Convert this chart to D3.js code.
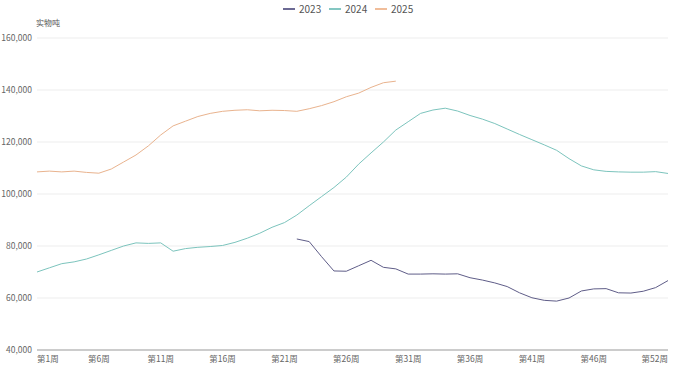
<!DOCTYPE html>
<html>
<head>
<meta charset="utf-8">
<script src="https://cdn.jsdelivr.net/npm/d3@7"></script>
<style>
  body { margin: 0; background: #fff; }
  svg { display: block; font-family: "Noto Sans CJK SC", "Noto Sans", sans-serif; }
</style>
</head>
<body>
<svg id="chart" width="683" height="370"></svg>
<script>
// weekly stock, tonnes (实物吨)
const weeks = d3.range(1, 53);
const tickWeeks = [1, 6, 11, 16, 21, 26, 31, 36, 41, 46, 52];
const yTicks = [40000, 60000, 80000, 100000, 120000, 140000, 160000];

// 2023 starts at week 22
const start2023 = 22;
const values2023 = [82700, 81700, 75900, 70400, 70300, 72400, 74500, 71800, 71200, 69200,
  69200, 69300, 69200, 69300, 67800, 66900, 65800, 64400, 62000, 60100,
  59100, 58800, 60000, 62700, 63500, 63600, 62000, 61900, 62600, 64000, 66700];

const values2024 = [70000, 71600, 73200, 73900, 75000, 76600, 78300, 80000, 81200, 81000,
  81200, 78000, 79000, 79500, 79800, 80200, 81400, 83000, 84900, 87200,
  89000, 91900, 95500, 99000, 102500, 106500, 111500, 115800, 120000, 124600,
  127800, 131000, 132300, 133000, 131900, 130200, 128800, 127100, 125000, 122900,
  120900, 118900, 116800, 113600, 110800, 109300, 108700, 108500, 108400, 108400,
  108600, 107900];

const values2025 = [108500, 108800, 108500, 108800, 108300, 108000, 109600, 112300, 115000, 118500,
  122700, 126200, 128000, 129800, 131000, 131800, 132200, 132400, 132000, 132200,
  132100, 131800, 132800, 134000, 135500, 137400, 138800, 141000, 142800, 143400];

const seriesNames = ["2023", "2024", "2025"];
const seriesColors = ["#3b3970", "#5bb5ae", "#eba779"];
const lineColors = ["#5f5d88", "#7cc4bd", "#e9b38e"];

const series = [
  values2023.map((v, i) => ({ week: start2023 + i, value: v })),
  values2024.map((v, i) => ({ week: weeks[i], value: v })),
  values2025.map((v, i) => ({ week: weeks[i], value: v }))
];

const svg = d3.select("#chart");

const x = d3.scaleLinear().domain([1, 52]).range([37, 668]);
const y = d3.scaleLinear().domain([40000, 160000]).range([350, 38]);

// gridlines + y labels
const yAxis = svg.append("g").attr("class", "y-axis");
yAxis.selectAll("line")
  .data(yTicks)
  .join("line")
  .attr("x1", x(1))
  .attr("x2", x(52))
  .attr("y1", d => y(d))
  .attr("y2", d => y(d))
  .attr("stroke", d => d === 40000 ? "#9a9a9a" : "#ededed")
  .attr("stroke-width", d => d === 40000 ? 1.2 : 1);

yAxis.selectAll("text")
  .data(yTicks)
  .join("text")
  .attr("x", 32)
  .attr("y", d => y(d))
  .attr("dy", "0.35em")
  .attr("text-anchor", "end")
  .attr("font-size", 8.5)
  .attr("fill", "#666")
  .text(d3.format(","));

svg.append("text")
  .attr("x", 36)
  .attr("y", 26)
  .attr("font-size", 8)
  .attr("fill", "#555")
  .text("实物吨");

// x labels, first and last kept inside the plot
svg.append("g").attr("class", "x-axis")
  .selectAll("text")
  .data(tickWeeks)
  .join("text")
  .attr("x", d => x(d))
  .attr("y", 362)
  .attr("text-anchor", (d, i) => i === 0 ? "start" : (i === tickWeeks.length - 1 ? "end" : "middle"))
  .attr("font-size", 8.5)
  .attr("fill", "#666")
  .text(d => "第" + d + "周");

const line = d3.line()
  .x(d => x(d.week))
  .y(d => y(d.value));

svg.append("g").selectAll("path")
  .data(series)
  .join("path")
  .attr("d", line)
  .attr("fill", "none")
  .attr("stroke", (d, i) => lineColors[i])
  .attr("stroke-width", 1)
  .attr("stroke-linejoin", "round");

// legend
const legend = svg.append("g").attr("transform", "translate(283,9)");
const item = legend.selectAll("g")
  .data(seriesNames)
  .join("g")
  .attr("transform", (d, i) => `translate(${i * 46},0)`);
item.append("line")
  .attr("x1", 0).attr("x2", 12)
  .attr("y1", 0).attr("y2", 0)
  .attr("stroke", (d, i) => seriesColors[i])
  .attr("stroke-width", 1.5);
item.append("text")
  .attr("x", 16)
  .attr("dy", "0.35em")
  .attr("font-size", 10)
  .attr("fill", "#555")
  .text(d => d);
</script>
</body>
</html>
